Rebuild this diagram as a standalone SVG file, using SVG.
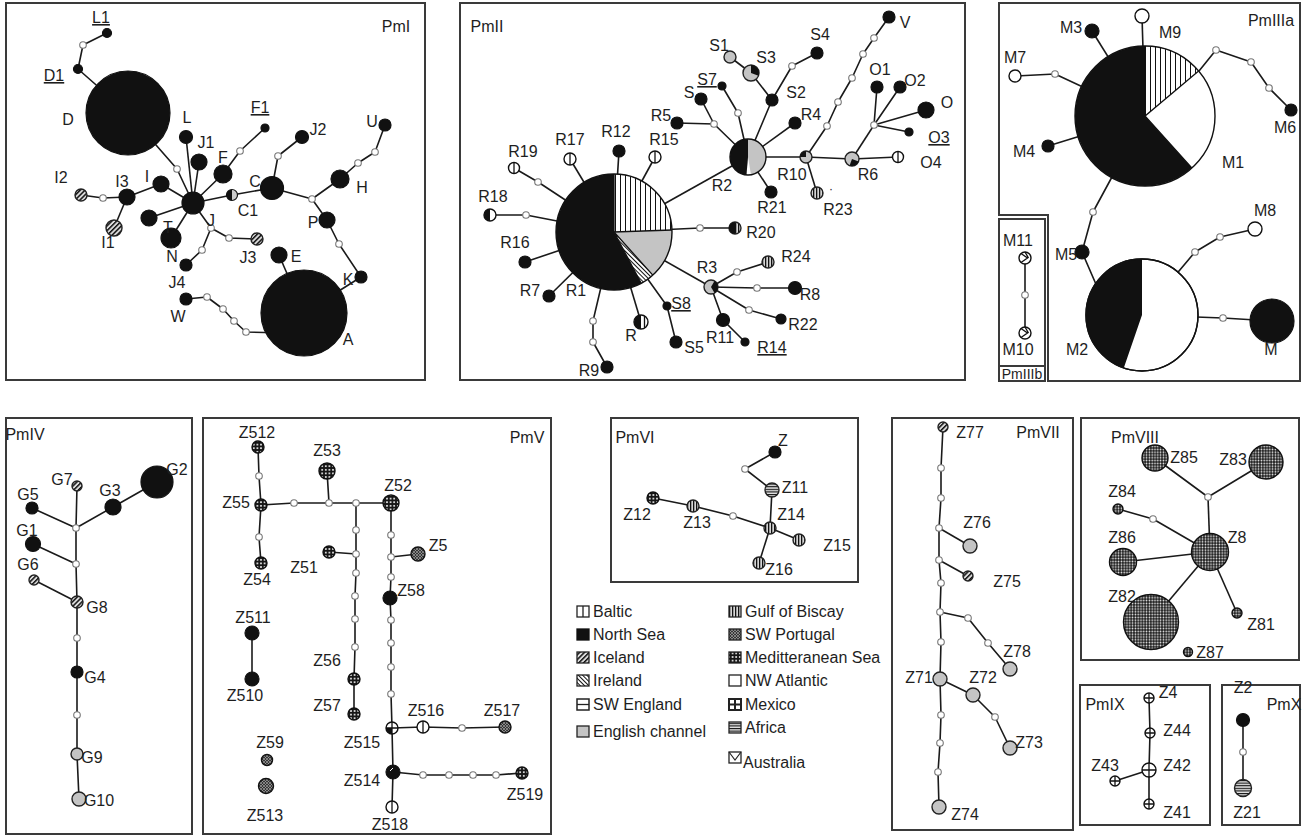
<svg xmlns="http://www.w3.org/2000/svg" width="1303" height="836" viewBox="0 0 1303 836">
<defs>
<style>
text{font-family:"Liberation Sans",Arial,sans-serif;font-size:16px;fill:#1e1e1e;text-anchor:middle}
.lg{text-anchor:start}
.u{text-decoration:underline}
.box{fill:none;stroke:#3a3a3a;stroke-width:2}
#connectors path{fill:none;stroke:#1a1a1a;stroke-width:1.6;stroke-linejoin:round}
.mv{fill:#fff;stroke:#777;stroke-width:1.1}
.k{fill:#111;stroke:#111;stroke-width:1.2}
.w{fill:#fff;stroke:#111;stroke-width:1.4}
.g{fill:#c4c4c4;stroke:#222;stroke-width:1.4}
.ice{fill:url(#pIce);stroke:#222;stroke-width:1.4}
.gob{fill:url(#pGob);stroke:#222;stroke-width:1.4}
.afr{fill:url(#pAfr);stroke:#222;stroke-width:1.4}
.med{fill:url(#pMed);stroke:#111;stroke-width:1.4}
.por{fill:url(#pPor);stroke:#111;stroke-width:1.4}
.chk{fill:url(#pChk);stroke:#111;stroke-width:1.4}
.ol{fill:none;stroke:#111;stroke-width:1.4}
.bl{stroke:#111;stroke-width:1.3;fill:none}
.kf{fill:#111}
</style>
<pattern id="pGob" width="3" height="3" patternUnits="userSpaceOnUse"><rect width="3" height="3" fill="#d6d6d6"/><rect width="1.3" height="3" fill="#111"/></pattern>
<pattern id="pGobL" width="5" height="5" patternUnits="userSpaceOnUse"><rect width="5" height="5" fill="#fff"/><rect width="1" height="5" fill="#111"/></pattern>
<pattern id="pIce" width="3.4" height="3.4" patternUnits="userSpaceOnUse" patternTransform="rotate(45)"><rect width="3.4" height="3.4" fill="#ddd"/><rect width="1.5" height="3.4" fill="#111"/></pattern>
<pattern id="pIre" width="3" height="3" patternUnits="userSpaceOnUse" patternTransform="rotate(-45)"><rect width="3" height="3" fill="#fff"/><rect width="1" height="3" fill="#111"/></pattern>
<pattern id="pAfr" width="3" height="2.6" patternUnits="userSpaceOnUse"><rect width="3" height="2.6" fill="#e0e0e0"/><rect width="3" height="1.1" fill="#111"/></pattern>
<pattern id="pMed" width="3.6" height="3.6" patternUnits="userSpaceOnUse"><rect width="3.6" height="3.6" fill="#151515"/><circle cx="1.8" cy="1.8" r="1" fill="#fff"/></pattern>
<pattern id="pPor" width="3" height="3" patternUnits="userSpaceOnUse"><rect width="3" height="3" fill="#353535"/><path d="M0,0L3,3M3,0L0,3" stroke="#b0b0b0" stroke-width="0.6"/></pattern>
<pattern id="pChk" width="2.8" height="2.8" patternUnits="userSpaceOnUse"><rect width="2.8" height="2.8" fill="#1c1c1c"/><circle cx="1.4" cy="1.4" r="0.85" fill="#f4f4f4"/></pattern>
</defs>
<rect width="1303" height="836" fill="#fff"/>

<g id="frames">
<rect class="box" x="6" y="3" width="419" height="377"/>
<rect class="box" x="460" y="3" width="505" height="377"/>
<path class="box" d="M999,3 H1300 V381 H1048 V215 H999 Z"/>
<rect class="box" x="999" y="219" width="46" height="162"/>
<line class="box" x1="999" y1="366" x2="1045" y2="366"/>
<rect class="box" x="6" y="418" width="186" height="416"/>
<rect class="box" x="203" y="418" width="348" height="416"/>
<rect class="box" x="611" y="418" width="247" height="164"/>
<rect class="box" x="892" y="418" width="181" height="412"/>
<rect class="box" x="1081" y="418" width="218" height="242"/>
<rect class="box" x="1080" y="685" width="130" height="140"/>
<rect class="box" x="1222" y="685" width="78" height="140"/>
</g>

<g id="panel-labels">
<text x="396" y="32">PmI</text>
<text x="487" y="32">PmII</text>
<text x="1271" y="26">PmIIIa</text>
<text x="1022" y="379" style="font-size:14px">PmIIIb</text>
<text x="25" y="440">PmIV</text>
<text x="527" y="443">PmV</text>
<text x="635" y="443">PmVI</text>
<text x="1038" y="438">PmVII</text>
<text x="1135" y="443">PmVIII</text>
<text x="1105" y="710">PmIX</text>
<text x="1284" y="710">PmX</text>
</g>

<g id="connectors">
<path d="M107,33 L83,45 L78,69 L128,113"/>
<path d="M128,113 L177,169 L193,203"/>
<path d="M193,203 L186,137"/>
<path d="M193,203 L199,162"/>
<path d="M193,203 L223,174 L240,151 L265,128"/>
<path d="M193,203 L161,184 L127,197 L103,198 L81,195"/>
<path d="M127,197 L114,228"/>
<path d="M193,203 L149,218"/>
<path d="M193,203 L171,238"/>
<path d="M193,203 L211,228 L202,250 L186,265"/>
<path d="M211,228 L229,238 L257,239"/>
<path d="M193,203 L232,195 L272,188"/>
<path d="M272,188 L278,156 L302,137"/>
<path d="M272,188 L312,199 L340,179 L358,163 L375,152 L385,125"/>
<path d="M312,199 L327,220 L339,244 L361,277 L304,313"/>
<path d="M279,255 L304,313"/>
<path d="M186,299 L207,297 L223,309 L234,321 L246,332 L285,333"/>

<path d="M614,232 L619,151"/>
<path d="M614,232 L570,159"/>
<path d="M614,232 L655,157"/>
<path d="M614,232 L538,182 L514,168"/>
<path d="M614,232 L526,215 L490,215"/>
<path d="M614,232 L525,262"/>
<path d="M614,232 L549,296"/>
<path d="M614,232 L593,321 L593,342 L607,367"/>
<path d="M614,232 L641,322"/>
<path d="M614,232 L667,306 L676,342"/>
<path d="M614,232 L711,287"/>
<path d="M711,287 L723,320 L745,342"/>
<path d="M711,287 L737,272 L768,262"/>
<path d="M711,287 L757,288 L795,288"/>
<path d="M711,287 L749,310 L781,319"/>
<path d="M614,232 L700,228 L735,228"/>
<path d="M614,232 L748,157"/>
<path d="M677,123 L714,124 L748,157"/>
<path d="M701,99 L714,124"/>
<path d="M722,86 L738,113 L748,157"/>
<path d="M748,157 L772,100 L751,73 L730,57"/>
<path d="M772,100 L792,66 L817,53"/>
<path d="M748,157 L795,123"/>
<path d="M748,157 L771,192"/>
<path d="M748,157 L806,157 L852,159 L898,157"/>
<path d="M806,157 L817,193"/>
<path d="M852,159 L874,125"/>
<path d="M874,125 L877,87 M874,125 L900,87 M874,125 L926,110 M874,125 L909,132"/>
<path d="M806,157 L827,126 L838,102 L852,78 L863,54 L874,38 L889,17"/>

<path d="M1145,116 L1142,16"/>
<path d="M1145,116 L1092,31"/>
<path d="M1145,116 L1055,74 L1015,76"/>
<path d="M1145,116 L1048,146"/>
<path d="M1199,71 L1216,50 L1251,62 L1269,88 L1291,110"/>
<path d="M1145,116 L1093,212 L1082,252 L1105,305"/>
<path d="M1142,315 L1223,318 L1272,321"/>
<path d="M1142,315 L1195,252 L1220,237 L1255,229"/>
<path d="M1025,258 L1025,333"/>

<path d="M77,486 L76,528 L76,564 L77,602 L77,638 L77,672 L77,715 L77,754 L79,799"/>
<path d="M32,508 L76,528 L113,507 L157,482"/>
<path d="M33,544 L76,564"/>
<path d="M34,580 L77,602"/>

<path d="M258,447 L259,476 L261,505 L259,537 L261,563"/>
<path d="M261,505 L294,503 L329,503 L356,503 L391,503"/>
<path d="M327,471 L329,503"/>
<path d="M356,503 L356,530 L356,554 L356,573 L355,596 L355,619 L355,647 L354,679 L354,714"/>
<path d="M329,552 L356,554"/>
<path d="M391,503 L391,535 L391,557 L391,577 L390,598 L391,620 L391,643 L391,667 L391,694 L392,728 L393,772 L392,807"/>
<path d="M418,554 L391,557"/>
<path d="M392,728 L423,727 L462,728 L505,727"/>
<path d="M393,772 L423,775 L449,775 L473,775 L496,775 L522,773"/>
<path d="M252,633 L252,679"/>

<path d="M775,452 L745,469 L772,490 L770,528"/>
<path d="M653,498 L693,506 L733,516 L770,528"/>
<path d="M770,528 L799,540"/>
<path d="M770,528 L759,563"/>

<path d="M943,427 L941,468 L941,498 L939,528 L939,560 L941,583 L940,612 L941,642 L940,679 L941,715 L940,743 L938,772 L939,807"/>
<path d="M939,528 L970,546"/>
<path d="M939,560 L968,576"/>
<path d="M940,612 L968,618 L988,643 L1010,669"/>
<path d="M940,679 L973,695 L995,717 L1010,748"/>

<path d="M1155,458 L1208,497 L1266,462"/>
<path d="M1208,497 L1210,552"/>
<path d="M1118,509 L1153,519 L1210,552"/>
<path d="M1123,562 L1210,552"/>
<path d="M1151,622 L1210,552"/>
<path d="M1237,613 L1210,552"/>

<path d="M1149,698 L1150,733 L1149,770 L1149,804"/>
<path d="M1115,781 L1149,770"/>
<path d="M1243,720 L1243,788"/>
</g>

<g id="median-vectors">
<g id="mv1"><circle class="mv" cx="83" cy="45" r="3.3"/></g>
<g id="mv2"><circle class="mv" cx="177" cy="169" r="3.3"/></g>
<g id="mv3"><circle class="mv" cx="103" cy="198" r="3.3"/></g>
<g id="mv4"><circle class="mv" cx="211" cy="228" r="3.3"/></g>
<g id="mv5"><circle class="mv" cx="202" cy="250" r="3.3"/></g>
<g id="mv6"><circle class="mv" cx="229" cy="238" r="3.3"/></g>
<g id="mv7"><circle class="mv" cx="240" cy="151" r="3.3"/></g>
<g id="mv8"><circle class="mv" cx="278" cy="156" r="3.3"/></g>
<g id="mv9"><circle class="mv" cx="312" cy="199" r="3.3"/></g>
<g id="mv10"><circle class="mv" cx="358" cy="163" r="3.3"/></g>
<g id="mv11"><circle class="mv" cx="375" cy="152" r="3.3"/></g>
<g id="mv12"><circle class="mv" cx="339" cy="244" r="3.3"/></g>
<g id="mv13"><circle class="mv" cx="207" cy="297" r="3.3"/></g>
<g id="mv14"><circle class="mv" cx="223" cy="309" r="3.3"/></g>
<g id="mv15"><circle class="mv" cx="234" cy="321" r="3.3"/></g>
<g id="mv16"><circle class="mv" cx="246" cy="332" r="3.3"/></g>
<g id="mv17"><circle class="mv" cx="538" cy="182" r="3.3"/></g>
<g id="mv18"><circle class="mv" cx="526" cy="215" r="3.3"/></g>
<g id="mv19"><circle class="mv" cx="593" cy="321" r="3.3"/></g>
<g id="mv20"><circle class="mv" cx="593" cy="342" r="3.3"/></g>
<g id="mv21"><circle class="mv" cx="737" cy="272" r="3.3"/></g>
<g id="mv22"><circle class="mv" cx="757" cy="288" r="3.3"/></g>
<g id="mv23"><circle class="mv" cx="749" cy="310" r="3.3"/></g>
<g id="mv24"><circle class="mv" cx="700" cy="228" r="3.3"/></g>
<g id="mv25"><circle class="mv" cx="714" cy="124" r="3.3"/></g>
<g id="mv26"><circle class="mv" cx="738" cy="113" r="3.3"/></g>
<g id="mv27"><circle class="mv" cx="792" cy="66" r="3.3"/></g>
<g id="mv28"><circle class="mv" cx="874" cy="125" r="3.3"/></g>
<g id="mv29"><circle class="mv" cx="827" cy="126" r="3.3"/></g>
<g id="mv30"><circle class="mv" cx="838" cy="102" r="3.3"/></g>
<g id="mv31"><circle class="mv" cx="852" cy="78" r="3.3"/></g>
<g id="mv32"><circle class="mv" cx="863" cy="54" r="3.3"/></g>
<g id="mv33"><circle class="mv" cx="874" cy="38" r="3.3"/></g>
<g id="mv34"><circle class="mv" cx="1055" cy="74" r="3.3"/></g>
<g id="mv35"><circle class="mv" cx="1216" cy="50" r="3.3"/></g>
<g id="mv36"><circle class="mv" cx="1251" cy="62" r="3.3"/></g>
<g id="mv37"><circle class="mv" cx="1269" cy="88" r="3.3"/></g>
<g id="mv38"><circle class="mv" cx="1093" cy="212" r="3.3"/></g>
<g id="mv39"><circle class="mv" cx="1223" cy="318" r="3.3"/></g>
<g id="mv40"><circle class="mv" cx="1195" cy="252" r="3.3"/></g>
<g id="mv41"><circle class="mv" cx="1220" cy="237" r="3.3"/></g>
<g id="mv42"><circle class="mv" cx="1025" cy="295" r="3.3"/></g>
<g id="mv43"><circle class="mv" cx="76" cy="528" r="3.3"/></g>
<g id="mv44"><circle class="mv" cx="76" cy="564" r="3.3"/></g>
<g id="mv45"><circle class="mv" cx="77" cy="638" r="3.3"/></g>
<g id="mv46"><circle class="mv" cx="77" cy="715" r="3.3"/></g>
<g id="mv47"><circle class="mv" cx="259" cy="476" r="3.3"/></g>
<g id="mv48"><circle class="mv" cx="259" cy="537" r="3.3"/></g>
<g id="mv49"><circle class="mv" cx="294" cy="503" r="3.3"/></g>
<g id="mv50"><circle class="mv" cx="329" cy="503" r="3.3"/></g>
<g id="mv51"><circle class="mv" cx="356" cy="503" r="3.3"/></g>
<g id="mv52"><circle class="mv" cx="356" cy="530" r="3.3"/></g>
<g id="mv53"><circle class="mv" cx="356" cy="554" r="3.3"/></g>
<g id="mv54"><circle class="mv" cx="356" cy="573" r="3.3"/></g>
<g id="mv55"><circle class="mv" cx="355" cy="596" r="3.3"/></g>
<g id="mv56"><circle class="mv" cx="355" cy="619" r="3.3"/></g>
<g id="mv57"><circle class="mv" cx="355" cy="647" r="3.3"/></g>
<g id="mv58"><circle class="mv" cx="391" cy="535" r="3.3"/></g>
<g id="mv59"><circle class="mv" cx="391" cy="557" r="3.3"/></g>
<g id="mv60"><circle class="mv" cx="391" cy="577" r="3.3"/></g>
<g id="mv61"><circle class="mv" cx="391" cy="620" r="3.3"/></g>
<g id="mv62"><circle class="mv" cx="391" cy="643" r="3.3"/></g>
<g id="mv63"><circle class="mv" cx="391" cy="667" r="3.3"/></g>
<g id="mv64"><circle class="mv" cx="391" cy="694" r="3.3"/></g>
<g id="mv65"><circle class="mv" cx="462" cy="728" r="3.3"/></g>
<g id="mv66"><circle class="mv" cx="423" cy="775" r="3.3"/></g>
<g id="mv67"><circle class="mv" cx="449" cy="775" r="3.3"/></g>
<g id="mv68"><circle class="mv" cx="473" cy="775" r="3.3"/></g>
<g id="mv69"><circle class="mv" cx="496" cy="775" r="3.3"/></g>
<g id="mv70"><circle class="mv" cx="745" cy="469" r="3.3"/></g>
<g id="mv71"><circle class="mv" cx="733" cy="516" r="3.3"/></g>
<g id="mv72"><circle class="mv" cx="941" cy="468" r="3.3"/></g>
<g id="mv73"><circle class="mv" cx="941" cy="498" r="3.3"/></g>
<g id="mv74"><circle class="mv" cx="939" cy="528" r="3.3"/></g>
<g id="mv75"><circle class="mv" cx="939" cy="560" r="3.3"/></g>
<g id="mv76"><circle class="mv" cx="941" cy="583" r="3.3"/></g>
<g id="mv77"><circle class="mv" cx="940" cy="612" r="3.3"/></g>
<g id="mv78"><circle class="mv" cx="941" cy="642" r="3.3"/></g>
<g id="mv79"><circle class="mv" cx="941" cy="715" r="3.3"/></g>
<g id="mv80"><circle class="mv" cx="940" cy="743" r="3.3"/></g>
<g id="mv81"><circle class="mv" cx="938" cy="772" r="3.3"/></g>
<g id="mv82"><circle class="mv" cx="968" cy="618" r="3.3"/></g>
<g id="mv83"><circle class="mv" cx="988" cy="643" r="3.3"/></g>
<g id="mv84"><circle class="mv" cx="995" cy="717" r="3.3"/></g>
<g id="mv85"><circle class="mv" cx="1208" cy="497" r="3.3"/></g>
<g id="mv86"><circle class="mv" cx="1153" cy="519" r="3.3"/></g>
<g id="mv87"><circle class="mv" cx="1243" cy="752" r="3.3"/></g>
</g>

<g id="PmI-nodes">
<g id="L1"><circle class="k" cx="107" cy="33" r="4.5"/><text class="u" x="101" y="23">L1</text></g>
<g id="D1"><circle class="k" cx="78" cy="69" r="4.5"/><text class="u" x="54" y="81">D1</text></g>
<g id="D"><circle class="k" cx="128" cy="113" r="42"/><text x="68" y="125">D</text></g>
<g id="L"><circle class="k" cx="186" cy="137" r="6.5"/><text x="187" y="123">L</text></g>
<g id="J1"><circle class="k" cx="199" cy="162" r="8"/><text x="206" y="148">J1</text></g>
<g id="F"><circle class="k" cx="223" cy="174" r="9"/><text x="223" y="163">F</text></g>
<g id="F1"><circle class="k" cx="265" cy="128" r="4"/><text class="u" x="260" y="113">F1</text></g>
<g id="J"><circle class="k" cx="193" cy="203" r="11"/><text x="211" y="226">J</text></g>
<g id="I"><circle class="k" cx="161" cy="184" r="8"/><text x="147" y="182">I</text></g>
<g id="I3"><circle class="k" cx="127" cy="197" r="8"/><text x="122" y="187">I3</text></g>
<g id="I2"><circle class="ice" cx="81" cy="195" r="6"/><text x="61" y="183">I2</text></g>
<g id="I1"><circle class="ice" cx="114" cy="228" r="8"/><text x="108" y="248">I1</text></g>
<g id="T"><circle class="k" cx="149" cy="218" r="8"/></g>
<g id="N"><circle class="k" cx="171" cy="238" r="10"/><text x="168" y="233">T</text><text x="172" y="262">N</text></g>
<g id="J4"><circle class="k" cx="186" cy="265" r="6"/><text x="177" y="288">J4</text></g>
<g id="J3"><circle class="ice" cx="257" cy="239" r="6"/><text x="248" y="263">J3</text></g>
<g id="C1"><circle cx="232" cy="195" r="5.5" fill="#ccc" stroke="#111" stroke-width="1.2"/><path class="kf" d="M232,189.5 A5.5,5.5 0 0 0 232,200.5 Z"/><text x="248" y="216">C1</text></g>
<g id="C"><circle class="k" cx="272" cy="188" r="11.5"/><text x="255" y="187">C</text></g>
<g id="J2"><circle class="k" cx="302" cy="137" r="6.5"/><text x="318" y="135">J2</text></g>
<g id="H"><circle class="k" cx="340" cy="179" r="9"/><text x="362" y="193">H</text></g>
<g id="U"><circle class="k" cx="385" cy="125" r="6"/><text x="372" y="127">U</text></g>
<g id="P"><circle class="k" cx="327" cy="220" r="8"/><text x="313" y="228">P</text></g>
<g id="K"><circle class="k" cx="361" cy="277" r="6"/><text x="348" y="285">K</text></g>
<g id="E"><circle class="k" cx="279" cy="255" r="8"/><text x="296" y="262">E</text></g>
<g id="A"><circle class="k" cx="304" cy="313" r="43"/><text x="348" y="345">A</text></g>
<g id="W"><circle class="k" cx="186" cy="299" r="6"/><text x="178" y="322">W</text></g>
</g>

<g id="PmII-nodes">
<g id="R1"><path class="kf" d="M614,232 L641.23,283.21 A58,58 0 1 1 614,174 Z"/><path fill="url(#pGobL)" d="M614,232 L614,174 A58,58 0 0 1 671.96,229.98 Z"/><path fill="#c4c4c4" d="M614,232 L671.96,229.98 A58,58 0 0 1 652.81,275.1 Z"/><path fill="url(#pIre)" d="M614,232 L652.81,275.1 A58,58 0 0 1 641.23,283.21 Z"/><path class="bl" d="M614,174 L614,232 L671.96,229.98 M614,232 L652.81,275.1 M614,232 L641.23,283.21"/><circle class="ol" cx="614" cy="232" r="58"/><text x="576" y="296">R1</text></g>
<g id="R12"><circle class="k" cx="619" cy="151" r="6"/><text x="616" y="137">R12</text></g>
<g id="R17"><circle class="w" cx="570" cy="159" r="6"/><line class="bl" x1="570" y1="153" x2="570" y2="165"/><text x="570" y="145">R17</text></g>
<g id="R15"><circle class="w" cx="655" cy="157" r="6"/><line class="bl" x1="655" y1="151" x2="655" y2="163"/><text x="664" y="145">R15</text></g>
<g id="R19"><circle class="w" cx="514" cy="168" r="5.5" stroke-width="2"/><line class="bl" x1="514" y1="162.5" x2="514" y2="173.5"/><text x="523" y="157">R19</text></g>
<g id="R18"><circle class="w" cx="490" cy="215" r="6"/><path class="kf" d="M490,209 A6,6 0 0 0 490,221 Z"/><text x="493" y="202">R18</text></g>
<g id="R16"><circle class="k" cx="525" cy="262" r="6"/><text x="515" y="248">R16</text></g>
<g id="R7"><circle class="k" cx="549" cy="296" r="6"/><text x="530" y="296">R7</text></g>
<g id="R9"><circle class="k" cx="607" cy="367" r="6"/><text x="589" y="376">R9</text></g>
<g id="R"><circle class="w" cx="641" cy="322" r="7"/><path class="kf" d="M641,315 A7,7 0 0 0 641,329 Z"/><line class="bl" x1="644.5" y1="316" x2="644.5" y2="328"/><text x="631" y="341">R</text></g>
<g id="S8"><circle class="k" cx="667" cy="306" r="4"/><text class="u" x="681" y="309">S8</text></g>
<g id="S5"><circle class="k" cx="676" cy="342" r="6"/><text x="694" y="353">S5</text></g>
<g id="R3"><circle class="g" cx="711" cy="287" r="7"/><path class="kf" d="M711,287 L714.5,280.94 A7,7 0 0 1 714.5,293.06 Z"/><text x="707" y="273">R3</text></g>
<g id="R11"><circle class="k" cx="723" cy="320" r="6.5"/><text x="720" y="343">R11</text></g>
<g id="R14"><circle class="k" cx="745" cy="342" r="4"/><text class="u" x="772" y="353">R14</text></g>
<g id="R24"><circle class="gob" cx="768" cy="262" r="6"/><text x="796" y="262">R24</text></g>
<g id="R8"><circle class="k" cx="795" cy="288" r="6.5"/><text x="810" y="300">R8</text></g>
<g id="R22"><circle class="k" cx="781" cy="319" r="5"/><text x="803" y="330">R22</text></g>
<g id="R20"><circle class="gob" cx="735" cy="228" r="6"/><path class="kf" d="M735,222 A6,6 0 0 0 735,234 Z"/><text x="761" y="238">R20</text></g>
<g id="R2"><circle cx="748" cy="157" r="18" fill="#c4c4c4"/><path fill="#fff" d="M748,157 L750.95,174.74 A18,18 0 0 1 746.43,174.93 Z"/><path class="kf" d="M748,157 L746.43,174.93 A18,18 0 0 1 748,139 Z"/><circle class="ol" cx="748" cy="157" r="18"/><text x="722" y="191">R2</text></g>
<g id="R5"><circle class="k" cx="677" cy="123" r="6"/><text x="661" y="121">R5</text></g>
<g id="S"><circle class="k" cx="701" cy="99" r="6"/><text x="689" y="98">S</text></g>
<g id="S7"><circle class="k" cx="722" cy="86" r="4"/><text class="u" x="707" y="85">S7</text></g>
<g id="S1"><circle class="g" cx="730" cy="57" r="6"/><text x="719" y="51">S1</text></g>
<g id="S3"><circle class="g" cx="751" cy="73" r="8"/><path class="kf" d="M751,73 L751,65 A8,8 0 0 1 758.52,75.74 Z"/><text x="766" y="63">S3</text></g>
<g id="S2"><circle class="k" cx="772" cy="100" r="6"/><text x="796" y="98">S2</text></g>
<g id="S4"><circle class="k" cx="817" cy="53" r="6"/><text x="820" y="40">S4</text></g>
<g id="R4"><circle class="k" cx="795" cy="123" r="6"/><text x="811" y="120">R4</text></g>
<g id="R21"><circle class="k" cx="771" cy="192" r="6"/><text x="772" y="213">R21</text></g>
<g id="R10"><circle class="g" cx="806" cy="157" r="6"/><path class="kf" d="M806,157 L800,157 A6,6 0 0 1 806,151 Z"/><text x="792" y="180">R10</text></g>
<g id="R23"><circle class="gob" cx="817" cy="193" r="6"/><text x="838" y="215">R23</text><text x="831" y="193" style="font-size:12px">·</text></g>
<g id="R6"><circle class="g" cx="852" cy="159" r="7"/><path class="kf" d="M852,159 L858.58,161.39 A7,7 0 0 1 849.61,165.58 Z"/><text x="868" y="180">R6</text></g>
<g id="O4"><circle class="w" cx="898" cy="157" r="5.5"/><line class="bl" x1="898" y1="151.5" x2="898" y2="162.5"/><text x="931" y="168">O4</text></g>
<g id="O1"><circle class="k" cx="877" cy="87" r="6"/><text x="880" y="75">O1</text></g>
<g id="O2"><circle class="k" cx="900" cy="87" r="6"/><text x="915" y="86">O2</text></g>
<g id="O"><circle class="k" cx="926" cy="110" r="8"/><text x="947" y="108">O</text></g>
<g id="O3"><circle class="k" cx="909" cy="132" r="4"/><text class="u" x="939" y="143">O3</text></g>
<g id="V"><circle class="k" cx="889" cy="17" r="6"/><text x="905" y="28">V</text></g>
</g>

<g id="PmIII-nodes">
<g id="M1"><path class="kf" d="M1145,116 L1191.84,168.02 A70,70 0 1 1 1145,46 Z"/><path fill="url(#pGobL)" d="M1145,116 L1145,46 A70,70 0 0 1 1198.62,71 Z"/><path class="bl" d="M1145,46 L1145,116 L1198.62,71 M1145,116 L1191.84,168.02"/><circle class="ol" cx="1145" cy="116" r="70"/><text x="1233" y="168">M1</text></g>
<g id="M9"><circle class="w" cx="1142" cy="16" r="7"/><text x="1170" y="38">M9</text></g>
<g id="M3"><circle class="k" cx="1092" cy="31" r="7"/><text x="1071" y="33">M3</text></g>
<g id="M7"><circle class="w" cx="1015" cy="76" r="6"/><text x="1015" y="63">M7</text></g>
<g id="M4"><circle class="k" cx="1048" cy="146" r="6"/><text x="1024" y="157">M4</text></g>
<g id="M6"><circle class="k" cx="1291" cy="110" r="6"/><text x="1285" y="133">M6</text></g>
<g id="M5"><circle class="k" cx="1082" cy="252" r="7"/><text x="1066" y="260">M5</text></g>
<g id="M2"><circle class="w" cx="1142" cy="315" r="56"/><path class="kf" d="M1142,315 L1123.77,367.95 A56,56 0 0 1 1142,259 Z"/><circle class="ol" cx="1142" cy="315" r="56"/><text x="1077" y="355">M2</text></g>
<g id="M"><circle class="k" cx="1272" cy="321" r="22"/><text x="1271" y="355">M</text></g>
<g id="M8"><circle class="w" cx="1255" cy="229" r="7"/><text x="1265" y="216">M8</text></g>
<g id="M11"><circle class="w" cx="1025" cy="258" r="6"/><path class="bl" d="M1021,253.5 L1027.5,258 L1021,262.5 M1025,252 L1028.5,258" stroke-width="1"/><text x="1018" y="246">M11</text></g>
<g id="M10"><circle class="w" cx="1025" cy="333" r="6"/><path class="bl" d="M1021,328.5 L1027.5,333 L1021,337.5 M1025,327 L1028.5,333" stroke-width="1"/><text x="1018" y="355">M10</text></g>
</g>

<g id="PmIV-nodes">
<g id="G2"><circle class="k" cx="157" cy="482" r="16"/><text x="177" y="475">G2</text></g>
<g id="G3"><circle class="k" cx="113" cy="507" r="8"/><text x="110" y="496">G3</text></g>
<g id="G7"><circle class="ice" cx="77" cy="486" r="5"/><text x="62" y="485">G7</text></g>
<g id="G5"><circle class="k" cx="32" cy="508" r="6"/><text x="28" y="500">G5</text></g>
<g id="G1"><circle class="k" cx="33" cy="544" r="7.5"/><text x="27" y="536">G1</text></g>
<g id="G6"><circle class="ice" cx="34" cy="580" r="5"/><text x="28" y="570">G6</text></g>
<g id="G8"><circle class="ice" cx="77" cy="602" r="6"/><text x="97" y="613">G8</text></g>
<g id="G4"><circle class="k" cx="77" cy="672" r="6"/><text x="95" y="683">G4</text></g>
<g id="G9"><circle class="g" cx="77" cy="754" r="6"/><text x="92" y="763">G9</text></g>
<g id="G10"><circle class="g" cx="79" cy="799" r="7"/><text x="99" y="806">G10</text></g>
</g>

<g id="PmV-nodes">
<g id="Z512"><circle class="med" cx="258" cy="447" r="6"/><text x="257" y="438">Z512</text></g>
<g id="Z55"><circle class="med" cx="261" cy="505" r="6"/><text x="236" y="508">Z55</text></g>
<g id="Z54"><circle class="med" cx="261" cy="563" r="6"/><text x="257" y="585">Z54</text></g>
<g id="Z53"><circle class="med" cx="327" cy="471" r="8"/><text x="327" y="456">Z53</text></g>
<g id="Z52"><circle class="med" cx="391" cy="503" r="8"/><text x="398" y="491">Z52</text></g>
<g id="Z51"><circle class="med" cx="329" cy="552" r="6"/><text x="304" y="573">Z51</text></g>
<g id="Z56"><circle class="med" cx="354" cy="679" r="6"/><text x="327" y="666">Z56</text></g>
<g id="Z57"><circle class="med" cx="354" cy="714" r="6"/><text x="327" y="711">Z57</text></g>
<g id="Z5"><circle class="por" cx="418" cy="554" r="7"/><text x="438" y="551">Z5</text></g>
<g id="Z58"><circle class="k" cx="390" cy="598" r="7"/><text x="411" y="596">Z58</text></g>
<g id="Z515"><circle class="w" cx="392" cy="728" r="6"/><path class="kf" d="M392,728 L386,728 A6,6 0 0 0 392,734 Z"/><path class="bl" d="M392,722 V734 M386,728 H398"/><text x="362" y="748">Z515</text></g>
<g id="Z514"><circle class="k" cx="393" cy="772" r="7"/><line x1="390" y1="771" x2="393" y2="768" stroke="#fff" stroke-width="1"/><text x="362" y="786">Z514</text></g>
<g id="Z518"><circle class="w" cx="392" cy="807" r="6"/><line class="bl" x1="392" y1="801" x2="392" y2="813"/><text x="390" y="830">Z518</text></g>
<g id="Z516"><circle class="w" cx="423" cy="727" r="6"/><line class="bl" x1="423" y1="721" x2="423" y2="733"/><text x="426" y="716">Z516</text></g>
<g id="Z517"><circle class="por" cx="505" cy="727" r="6"/><text x="502" y="716">Z517</text></g>
<g id="Z519"><circle class="med" cx="522" cy="773" r="6"/><text x="525" y="800">Z519</text></g>
<g id="Z511"><circle class="k" cx="252" cy="633" r="7"/><text x="253" y="623">Z511</text></g>
<g id="Z510"><circle class="k" cx="252" cy="679" r="7"/><text x="245" y="701">Z510</text></g>
<g id="Z59"><circle class="por" cx="267" cy="760" r="5.5"/><text x="270" y="748">Z59</text></g>
<g id="Z513"><circle class="por" cx="266" cy="786" r="7.5"/><text x="265" y="821">Z513</text></g>
</g>

<g id="PmVI-nodes">
<g id="Z"><circle class="k" cx="775" cy="452" r="6"/><text x="783" y="446">Z</text></g>
<g id="Z11"><circle class="afr" cx="772" cy="490" r="7"/><text x="795" y="493">Z11</text></g>
<g id="Z14"><circle class="gob" cx="770" cy="528" r="6"/><text x="791" y="520">Z14</text></g>
<g id="Z15"><circle class="gob" cx="799" cy="540" r="6"/><text x="837" y="551">Z15</text></g>
<g id="Z16"><circle class="gob" cx="759" cy="563" r="6"/><text x="779" y="575">Z16</text></g>
<g id="Z13"><circle class="gob" cx="693" cy="506" r="6"/><text x="697" y="528">Z13</text></g>
<g id="Z12"><circle class="med" cx="653" cy="498" r="6"/><text x="637" y="520">Z12</text></g>
</g>

<g id="legend">
<rect x="577" y="606" width="12" height="11" fill="#fff" stroke="#222" stroke-width="1.3"/><line x1="583" y1="606" x2="583" y2="617" stroke="#222" stroke-width="1.3"/><text class="lg" x="593" y="617">Baltic</text>
<rect x="577" y="629" width="12" height="11" fill="#111" stroke="#111" stroke-width="1.3"/><text class="lg" x="593" y="640">North Sea</text>
<rect x="577" y="652" width="12" height="11" fill="url(#pIce)" stroke="#222" stroke-width="1.3"/><text class="lg" x="593" y="663">Iceland</text>
<rect x="577" y="675" width="12" height="11" fill="url(#pIre)" stroke="#222" stroke-width="1.3"/><text class="lg" x="593" y="686">Ireland</text>
<rect x="577" y="699" width="12" height="11" fill="#fff" stroke="#222" stroke-width="1.5"/><line x1="577" y1="704.5" x2="589" y2="704.5" stroke="#222" stroke-width="1.3"/><text class="lg" x="593" y="710">SW England</text>
<rect x="577" y="726" width="12" height="11" fill="#c4c4c4" stroke="#222" stroke-width="1.3"/><text class="lg" x="593" y="737">English channel</text>
<rect x="729" y="606" width="12" height="11" fill="url(#pGob)" stroke="#222" stroke-width="1.3"/><text class="lg" x="745" y="617">Gulf of Biscay</text>
<rect x="729" y="629" width="12" height="11" fill="url(#pPor)" stroke="#222" stroke-width="1.3"/><text class="lg" x="745" y="640">SW Portugal</text>
<rect x="729" y="652" width="12" height="11" fill="url(#pMed)" stroke="#222" stroke-width="1.3"/><text class="lg" x="745" y="663">Meditteranean Sea</text>
<rect x="729" y="675" width="12" height="11" fill="#fff" stroke="#222" stroke-width="1.3"/><text class="lg" x="745" y="686">NW Atlantic</text>
<rect x="729" y="699" width="12" height="11" fill="#fff" stroke="#222" stroke-width="2"/><path d="M735,699 V710 M729,704.5 H741" stroke="#222" stroke-width="2"/><text class="lg" x="745" y="710">Mexico</text>
<rect x="729" y="722" width="12" height="11" fill="url(#pAfr)" stroke="#222" stroke-width="1.3"/><text class="lg" x="745" y="733">Africa</text>
<rect x="729" y="752" width="12" height="11" fill="#fff" stroke="#222" stroke-width="1.3"/><path d="M729,752 L735,760 L741,752" fill="none" stroke="#222" stroke-width="1.1"/><text class="lg" x="743" y="768">Australia</text>
</g>

<g id="PmVII-nodes">
<g id="Z77"><circle class="ice" cx="943" cy="427" r="5"/><text x="970" y="438">Z77</text></g>
<g id="Z76"><circle class="g" cx="970" cy="546" r="7"/><text x="977" y="528">Z76</text></g>
<g id="Z75"><circle class="ice" cx="968" cy="576" r="5"/><text x="1007" y="587">Z75</text></g>
<g id="Z78"><circle class="g" cx="1010" cy="669" r="7"/><text x="1017" y="657">Z78</text></g>
<g id="Z71"><circle class="g" cx="940" cy="679" r="7"/><text x="919" y="683">Z71</text></g>
<g id="Z72"><circle class="g" cx="973" cy="695" r="7"/><text x="983" y="683">Z72</text></g>
<g id="Z73"><circle class="g" cx="1010" cy="748" r="7"/><text x="1029" y="748">Z73</text></g>
<g id="Z74"><circle class="g" cx="939" cy="807" r="7"/><text x="965" y="820">Z74</text></g>
</g>

<g id="PmVIII-nodes">
<g id="Z85"><circle class="chk" cx="1155" cy="458" r="13"/><text x="1184" y="463">Z85</text></g>
<g id="Z83"><circle class="chk" cx="1266" cy="462" r="17"/><text x="1233" y="465">Z83</text></g>
<g id="Z84"><circle class="chk" cx="1118" cy="509" r="5"/><text x="1122" y="497">Z84</text></g>
<g id="Z8"><circle class="chk" cx="1210" cy="552" r="18.5"/><text x="1237" y="543">Z8</text></g>
<g id="Z86"><circle class="chk" cx="1123" cy="562" r="13.5"/><text x="1122" y="543">Z86</text></g>
<g id="Z82"><circle class="chk" cx="1151" cy="622" r="27.5"/><text x="1122" y="602">Z82</text></g>
<g id="Z81"><circle class="chk" cx="1237" cy="613" r="5"/><text x="1261" y="630">Z81</text></g>
<g id="Z87"><circle class="chk" cx="1188" cy="652" r="4.5"/><text x="1210" y="658">Z87</text></g>
</g>

<g id="PmIX-nodes">
<g id="Z4"><circle class="w" cx="1149" cy="698" r="5" stroke-width="1.6"/><path class="bl" d="M1149,693 V703 M1144,698 H1154"/><text x="1168" y="698">Z4</text></g>
<g id="Z44"><circle class="w" cx="1150" cy="733" r="5" stroke-width="1.6"/><path class="bl" d="M1150,728 V738 M1145,733 H1155"/><text x="1177" y="736">Z44</text></g>
<g id="Z42"><circle class="w" cx="1149" cy="770" r="7" stroke-width="1.6"/><path class="bl" d="M1149,763 V777 M1142,770 H1156"/><text x="1177" y="771">Z42</text></g>
<g id="Z43"><circle class="w" cx="1115" cy="781" r="5" stroke-width="1.6"/><path class="bl" d="M1115,776 V786 M1110,781 H1120"/><text x="1105" y="771">Z43</text></g>
<g id="Z41"><circle class="w" cx="1149" cy="804" r="5" stroke-width="1.6"/><path class="bl" d="M1149,799 V809 M1144,804 H1154"/><text x="1177" y="818">Z41</text></g>
</g>

<g id="PmX-nodes">
<g id="Z2"><circle class="k" cx="1243" cy="720" r="6.5"/><text x="1243" y="693">Z2</text></g>
<g id="Z21"><circle class="afr" cx="1243" cy="788" r="8.5"/><text x="1247" y="818">Z21</text></g>
</g>
</svg>
